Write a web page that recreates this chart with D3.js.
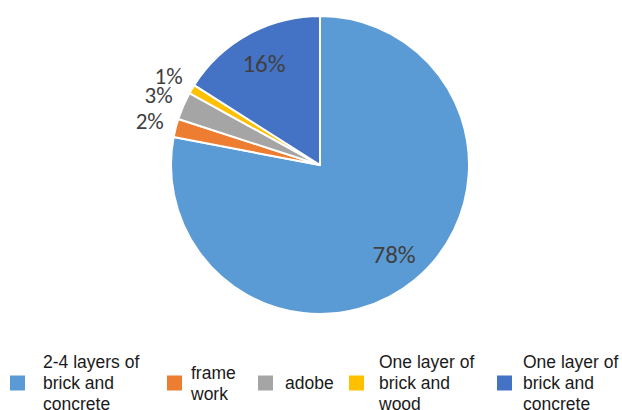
<!DOCTYPE html>
<html>
<head>
<meta charset="utf-8">
<script src="https://cdn.jsdelivr.net/npm/d3@7"></script>
<style>
  html, body { margin: 0; padding: 0; background: #fff; }
  svg { display: block; }
</style>
</head>
<body>
<svg id="chart" width="622" height="410"></svg>
<script>
// Building types and their share of the stock (%)
const categories = [
  "2-4 layers of brick and concrete",
  "frame work",
  "adobe",
  "One layer of brick and wood",
  "One layer of brick and concrete"
];
const values = [78, 2, 3, 1, 16];
const colors = ["#5B9BD5", "#ED7D31", "#A5A5A5", "#FFC000", "#4472C4"];
// wrapped legend text, one entry per category
const legendLines = [
  ["2-4 layers of", "brick and", "concrete"],
  ["frame", "work"],
  ["adobe"],
  ["One layer of", "brick and", "wood"],
  ["One layer of", "brick and", "concrete"]
];
// slices small enough to get their label outside the pie
const outsideLabel = [false, true, true, true, false];

const svg = d3.select("#chart");
const cx = 320, cy = 165, r = 149;

const data = categories.map((c, i) => ({ name: c, value: values[i], color: colors[i], i }));

const pie = d3.pie().sort(null).value(d => d.value);
const arcs = pie(data);
const arc = d3.arc().innerRadius(0).outerRadius(r);
const inLabelArc = d3.arc().innerRadius(r * 0.78).outerRadius(r * 0.78);
const outLabelArc = d3.arc().innerRadius(r * 1.18).outerRadius(r * 1.18);

const g = svg.append("g").attr("transform", `translate(${cx},${cy})`);

g.selectAll("path.slice")
  .data(arcs)
  .join("path")
  .attr("class", "slice")
  .attr("d", arc)
  .attr("fill", d => d.data.color)
  .attr("stroke", "#fff")
  .attr("stroke-width", 2)
  .attr("stroke-linejoin", "round");

g.selectAll("text.pct")
  .data(arcs)
  .join("text")
  .attr("class", "pct")
  .attr("transform", d => {
    const p = (outsideLabel[d.data.i] ? outLabelArc : inLabelArc).centroid(d);
    return `translate(${p[0]},${p[1]})`;
  })
  .attr("text-anchor", "middle")
  .attr("dominant-baseline", "central")
  .attr("font-family", "Carlito, Lato, 'Open Sans', sans-serif")
  .attr("font-size", d => outsideLabel[d.data.i] ? 23 : 25)
  .attr("fill", "#404040")
  .text(d => d.data.value + "%");

// Legend along the bottom
const legendX = [10, 167, 258, 349, 497];
const legendCenterY = 383;
const lineH = 21;
const fontSize = 17.5;

const lg = svg.append("g").attr("font-family", "'Liberation Sans', Arial, sans-serif")
  .attr("font-size", fontSize).attr("fill", "#1a1a1a");

data.forEach((d, i) => {
  const item = lg.append("g").attr("transform", `translate(${legendX[i]},0)`);
  item.append("rect")
    .attr("x", 0).attr("y", legendCenterY - 7.5)
    .attr("width", 15).attr("height", 15)
    .attr("fill", d.color);
  const lines = legendLines[i];
  const firstBase = legendCenterY + 6 - (lines.length - 1) * lineH / 2;
  const textX = [33, 24, 27, 30, 26][i];
  item.selectAll("text")
    .data(lines)
    .join("text")
    .attr("x", textX)
    .attr("y", (t, k) => firstBase + k * lineH)
    .text(t => t);
});
</script>
</body>
</html>
